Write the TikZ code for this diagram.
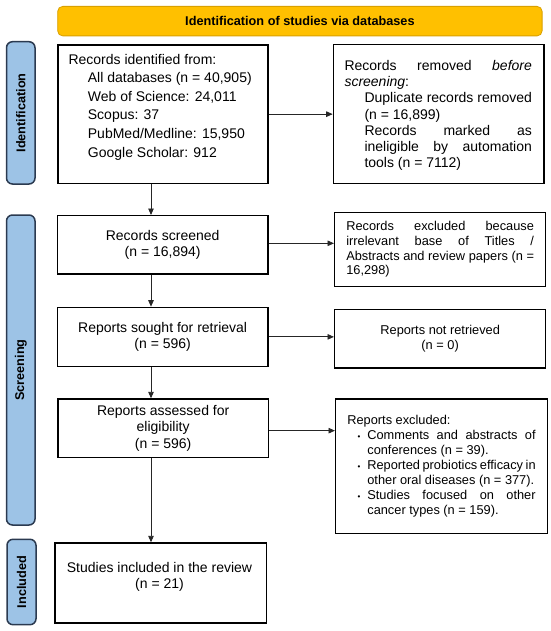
\documentclass[tikz,border=0pt]{standalone}
\usepackage{fontspec}
\setmainfont{Liberation Sans}
\usetikzlibrary{arrows.meta,calc}
\definecolor{gold}{HTML}{FFC000}
\definecolor{goldline}{HTML}{D9A000}
\definecolor{sideblue}{HTML}{9DC3E6}
\definecolor{sideline}{HTML}{2B3A50}
\newcommand\pbullet{{\fontsize{8}{8}\selectfont\textbullet}}
\begin{document}
\begin{tikzpicture}[x=1pt,y=-1pt,
  box/.style={draw=black, line width=1.3pt, inner sep=0pt, anchor=north west},
  side/.style={draw=sideline, fill=sideblue, line width=1.5pt, rounded corners=6pt,
    inner sep=0pt, rotate=90, font=\fontsize{12.7}{14}\selectfont\bfseries},
  big/.style={font=\fontsize{14}{16.7}\selectfont, align=center},
  bigl/.style={font=\fontsize{14}{16.3}\selectfont},
  small/.style={font=\fontsize{12.8}{15}\selectfont},
  arr/.style={draw=black!85, line width=0.9pt, -{Triangle[length=6.5pt,width=5.5pt]}}
]
\useasboundingbox (0,0) rectangle (550,631);

% banner
\node[draw=goldline, fill=gold, line width=0.8pt, rounded corners=5pt, anchor=north west,
  minimum width=484.4pt, minimum height=29.5pt, inner sep=0pt,
  font=\fontsize{12.7}{14}\selectfont\bfseries] (ban) at (57.3,6) {Identification of studies via databases};

% side labels
\node[side, minimum width=142.3pt, minimum height=28.5pt] (idl) at (20.75,112.85) {Identification};
\node[side, minimum width=310pt, minimum height=28.5pt] (scl) at (20.75,370) {Screening};
\node[side, minimum width=85.4pt, minimum height=29pt] (inl) at (21.5,582) {Included};

% identification
\node[box, minimum width=210pt, minimum height=138.4pt] (b1) at (57.3,44.3) {};
\node[anchor=north west, inner sep=0pt, font=\fontsize{14}{18.6}\selectfont, align=left] (b1t) at (68.3,53.8)
  {Records identified from:\\
   \hspace*{19.4pt}All databases (n = 40,905)\\
   \hspace*{19.4pt}Web of Science: 24,011\\
   \hspace*{19.4pt}Scopus: 37\\
   \hspace*{19.4pt}PubMed/Medline: 15,950\\
   \hspace*{19.4pt}Google Scholar: 912};

\node[box, minimum width=210.6pt, minimum height=138.7pt] (rem) at (332.7,44) {};
\node[anchor=north west, inner sep=0pt, bigl, text width=187.4pt, align=justify] (remt) at (344.3,59.8)
  {\parindent=0pt Records removed \textit{before}\linebreak \textit{screening}:\par
   \leftskip=20pt Duplicate records removed\linebreak (n = 16,899)\par
   Records marked as\linebreak ineligible by automation\linebreak tools (n = 7112)\par};

% screening
\node[box, big, minimum width=210.6pt, minimum height=58.3pt] (scr) at (56.7,215)
  {Records screened\\(n = 16,894)};
\node[box, minimum width=211pt, minimum height=74pt, text width=187.7pt, align=justify,
  font=\fontsize{12.8}{14.8}\selectfont] (exc) at (334,211.7)
  {\parindent=0pt Records excluded because\linebreak irrelevant base of Titles /\linebreak Abstracts and review papers (n =\linebreak 16,298)};

\node[box, big, minimum width=210.6pt, minimum height=59pt] (sou) at (56.7,306.7)
  {Reports sought for retrieval\\(n = 596)};
\node[box, small, align=center, minimum width=211pt, minimum height=58.3pt] (nr) at (334,309)
  {Reports not retrieved\\(n = 0)};

\node[box, big, minimum width=210.4pt, minimum height=58.4pt] (ass) at (57.3,398.3)
  {Reports assessed for\\eligibility\\(n = 596)};
\node[box, minimum width=211.7pt, minimum height=134.4pt, text width=188.3pt, align=justify,
  font=\fontsize{12.8}{15.07}\selectfont] (rexc) at (335,398.3)
  {\parindent=0pt Reports excluded:\par
   {\leftskip=20pt
   \noindent\llap{\pbullet\hspace{7pt}}Comments and abstracts of\linebreak conferences (n = 39).\par
   \noindent\llap{\pbullet\hspace{7pt}}Reported probiotics efficacy in\linebreak other oral diseases (n = 377).\par
   \noindent\llap{\pbullet\hspace{7pt}}Studies focused on other\linebreak cancer types (n = 159).\par}};

% included
\node[box, minimum width=211.4pt, minimum height=80pt] (inc) at (54.3,542.3) {};
\node[big, inner sep=0pt] (inct) at (159.5,577) {Studies included in the review\\(n = 21)};

% connectors
\coordinate (colx) at (151,0);
\coordinate (scrout) at ($(scr.east)+(0,-1.5)$);
\coordinate (assout) at ($(ass.east)+(0,2.5)$);
\draw[arr] (b1.east) -- (b1.east -| rem.west);
\draw[arr] (scrout) -- (scrout -| exc.west);
\draw[arr] (sou.east) -- (sou.east -| nr.west);
\draw[arr] (assout) -- (assout -| rexc.west);
\draw[arr] (b1.south -| colx) -- (scr.north -| colx);
\draw[arr] (scr.south -| colx) -- (sou.north -| colx);
\draw[arr] (sou.south -| colx) -- (ass.north -| colx);
\draw[arr] (ass.south -| colx) -- (inc.north -| colx);
\end{tikzpicture}
\end{document}
